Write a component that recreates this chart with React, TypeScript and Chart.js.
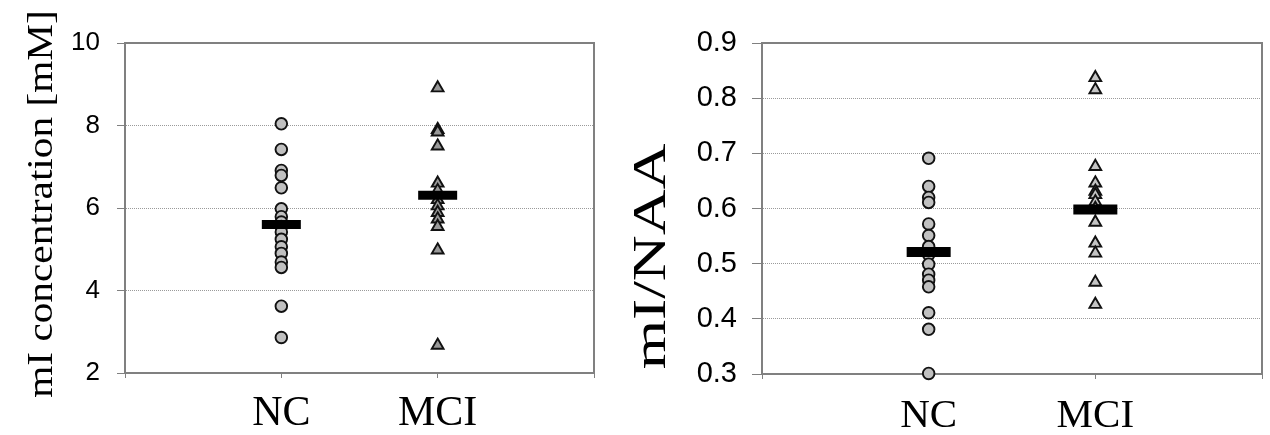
import React, { useEffect, useRef } from 'react';
import { Chart, registerables } from 'chart.js';

Chart.register(...registerables);

// ---- data ----
const categories = ['NC', 'MCI'];
const categoryX = [1, 2];
const xTicks = [0, 1, 2, 3];

const ncConcentration = [8.04, 7.42, 6.91, 6.79, 6.49, 5.98, 5.79, 5.66, 5.55, 5.42, 5.24, 5.06, 4.9, 4.69, 4.56, 3.62, 2.86];
const mciConcentration = [8.91, 7.9, 7.84, 7.5, 6.6, 6.42, 6.2, 6.05, 5.89, 5.73, 5.55, 4.98, 2.67];
const meanConcentration = [5.6, 6.31];
const concTicks = [2, 4, 6, 8, 10];

const ncRatio = [0.691, 0.64, 0.62, 0.611, 0.572, 0.551, 0.531, 0.516, 0.499, 0.481, 0.47, 0.458, 0.411, 0.381, 0.301];
const mciRatio = [0.837, 0.815, 0.676, 0.646, 0.631, 0.625, 0.612, 0.6, 0.575, 0.537, 0.519, 0.466, 0.426];
const meanRatio = [0.521, 0.598];
const ratioTicks = [0.3, 0.4, 0.5, 0.6, 0.7, 0.8, 0.9];

const leftTitle = 'mI concentration [mM]';
const rightTitle = 'mI/NAA';

type PanelOpts = {
  nc: number[];
  mci: number[];
  means: number[];
  ticks: number[];
  decimals: number;
  tickFont: number;
  tickLength: number;
  tickPad: number;
  yWidth: number;
  xHeight: number;
  padRight: number;
  xFont: number;
  xPad: number;
  title: string;
  titleX: number;
  titleY: number;
  titleSize: number;
  titleStretch: number;
  triFill: string;
  barHalf: number;
  barWidth: number;
};

function makeConfig(o: PanelOpts): any {
  const min = o.ticks[0];
  const max = o.ticks[o.ticks.length - 1];
  const titlePlugin = {
    id: 'stretchedTitle',
    afterDraw(chart: any) {
      const ctx = chart.ctx;
      ctx.save();
      ctx.translate(o.titleX, o.titleY);
      ctx.rotate(-Math.PI / 2);
      ctx.scale(o.titleStretch, 1);
      ctx.font = `${o.titleSize}px "Liberation Serif"`;
      ctx.fillStyle = '#000';
      ctx.textAlign = 'center';
      ctx.textBaseline = 'alphabetic';
      ctx.fillText(o.title, 0, 0);
      ctx.restore();
    },
  };
  const boxPlugin = {
    id: 'plotBox',
    beforeDatasetsDraw(chart: any) {
      const { ctx, chartArea } = chart;
      ctx.save();
      ctx.strokeStyle = '#808080';
      ctx.lineWidth = 2;
      ctx.beginPath();
      ctx.moveTo(chartArea.left, chartArea.top);
      ctx.lineTo(chartArea.right, chartArea.top);
      ctx.lineTo(chartArea.right, chartArea.bottom);
      ctx.stroke();
      ctx.restore();
    },
  };
  return {
    type: 'scatter',
    data: {
      datasets: [
        {
          label: 'mean',
          data: o.means.map((v, i) => ({ x: categoryX[i], y: v })),
          pointStyle: 'line',
          pointRadius: o.barHalf,
          pointBorderWidth: o.barWidth,
          pointBorderColor: '#000',
          pointBackgroundColor: '#000',
          order: 0,
          clip: false,
        },
        {
          label: categories[0],
          data: o.nc.map((v) => ({ x: categoryX[0], y: v })),
          pointStyle: 'circle',
          pointRadius: 5.8,
          pointBorderWidth: 1.9,
          pointBorderColor: '#111',
          pointBackgroundColor: '#c0c0c0',
          order: 1,
          clip: false,
        },
        {
          label: categories[1],
          data: o.mci.map((v) => ({ x: categoryX[1], y: v })),
          pointStyle: 'triangle',
          pointRadius: 6.8,
          pointBorderWidth: 1.9,
          pointBorderColor: '#111',
          pointBackgroundColor: o.triFill,
          order: 1,
          clip: false,
        },
      ],
    },
    options: {
      responsive: false,
      animation: false,
      events: [],
      layout: { autoPadding: false, padding: { left: 0, right: o.padRight, top: 43, bottom: 0 } },
      plugins: {
        legend: { display: false },
        tooltip: { enabled: false },
        title: { display: false },
      },
      scales: {
        x: {
          type: 'linear',
          min: 0,
          max: 3,
          afterBuildTicks: (s: any) => {
            s.ticks = xTicks.map((v) => ({ value: v }));
          },
          afterFit: (s: any) => {
            s.height = o.xHeight;
            s.paddingLeft = 0;
            s.paddingRight = 0;
          },
          ticks: {
            autoSkip: false,
            maxRotation: 0,
            padding: o.xPad,
            color: '#000',
            font: { family: '"Liberation Serif"', size: o.xFont },
            callback: (v: number) => {
              const i = categoryX.indexOf(v);
              return i >= 0 ? categories[i] : '';
            },
          },
          grid: {
            drawOnChartArea: false,
            drawTicks: true,
            tickLength: 5,
            tickColor: '#808080',
            color: '#808080',
          },
          border: { display: true, color: '#808080', width: 2 },
        },
        y: {
          type: 'linear',
          min,
          max,
          afterBuildTicks: (s: any) => {
            s.ticks = o.ticks.map((v) => ({ value: v }));
          },
          afterFit: (s: any) => {
            s.width = o.yWidth;
            s.paddingTop = 0;
            s.paddingBottom = 0;
          },
          ticks: {
            padding: o.tickPad,
            color: '#000',
            font: { family: '"Liberation Sans"', size: o.tickFont },
            callback: (v: number) => v.toFixed(o.decimals),
          },
          grid: {
            drawTicks: true,
            tickLength: o.tickLength,
            tickColor: '#808080',
            lineWidth: 1,
            color: (c: any) =>
              c.tick && (Math.abs(c.tick.value - min) < 1e-9 || Math.abs(c.tick.value - max) < 1e-9)
                ? 'rgba(0,0,0,0)'
                : '#9a9a9a',
          },
          border: { display: true, color: '#808080', width: 2, dash: [1, 1] },
        },
      },
    },
    plugins: [boxPlugin, titlePlugin],
  };
}

function Panel({ left, width, opts }: { left: number; width: number; opts: PanelOpts }) {
  const ref = useRef<HTMLCanvasElement | null>(null);
  useEffect(() => {
    if (!ref.current) return;
    const chart = new Chart(ref.current, makeConfig(opts));
    return () => chart.destroy();
  }, []);
  return (
    <canvas
      ref={ref}
      width={width}
      height={435}
      style={{ position: 'absolute', left, top: 0, width, height: 435 }}
    />
  );
}

export default function App() {
  const leftOpts: PanelOpts = {
    nc: ncConcentration,
    mci: mciConcentration,
    means: meanConcentration,
    ticks: concTicks,
    decimals: 0,
    tickFont: 26,
    tickLength: 8,
    tickPad: 17,
    yWidth: 125,
    xHeight: 62,
    padRight: 21,
    xFont: 42,
    xPad: 11,
    title: leftTitle,
    titleX: 51.5,
    titleY: 204,
    titleSize: 35,
    titleStretch: 1.18,
    triFill: '#999999',
    barHalf: 19.5,
    barWidth: 9,
  };
  const rightOpts: PanelOpts = {
    nc: ncRatio,
    mci: mciRatio,
    means: meanRatio,
    ticks: ratioTicks,
    decimals: 1,
    tickFont: 29,
    tickLength: 10,
    tickPad: 15,
    yWidth: 147,
    xHeight: 61,
    padRight: 8,
    xFont: 41,
    xPad: 13,
    title: rightTitle,
    titleX: 50,
    titleY: 256.5,
    titleSize: 46,
    titleStretch: 1.38,
    triFill: '#c4c4c4',
    barHalf: 22,
    barWidth: 10,
  };
  return (
    <div style={{ position: 'absolute', left: 0, top: 0, width: 1270, height: 435, background: '#fff' }}>
      <Panel left={0} width={615} opts={leftOpts} />
      <Panel left={615} width={655} opts={rightOpts} />
    </div>
  );
}
